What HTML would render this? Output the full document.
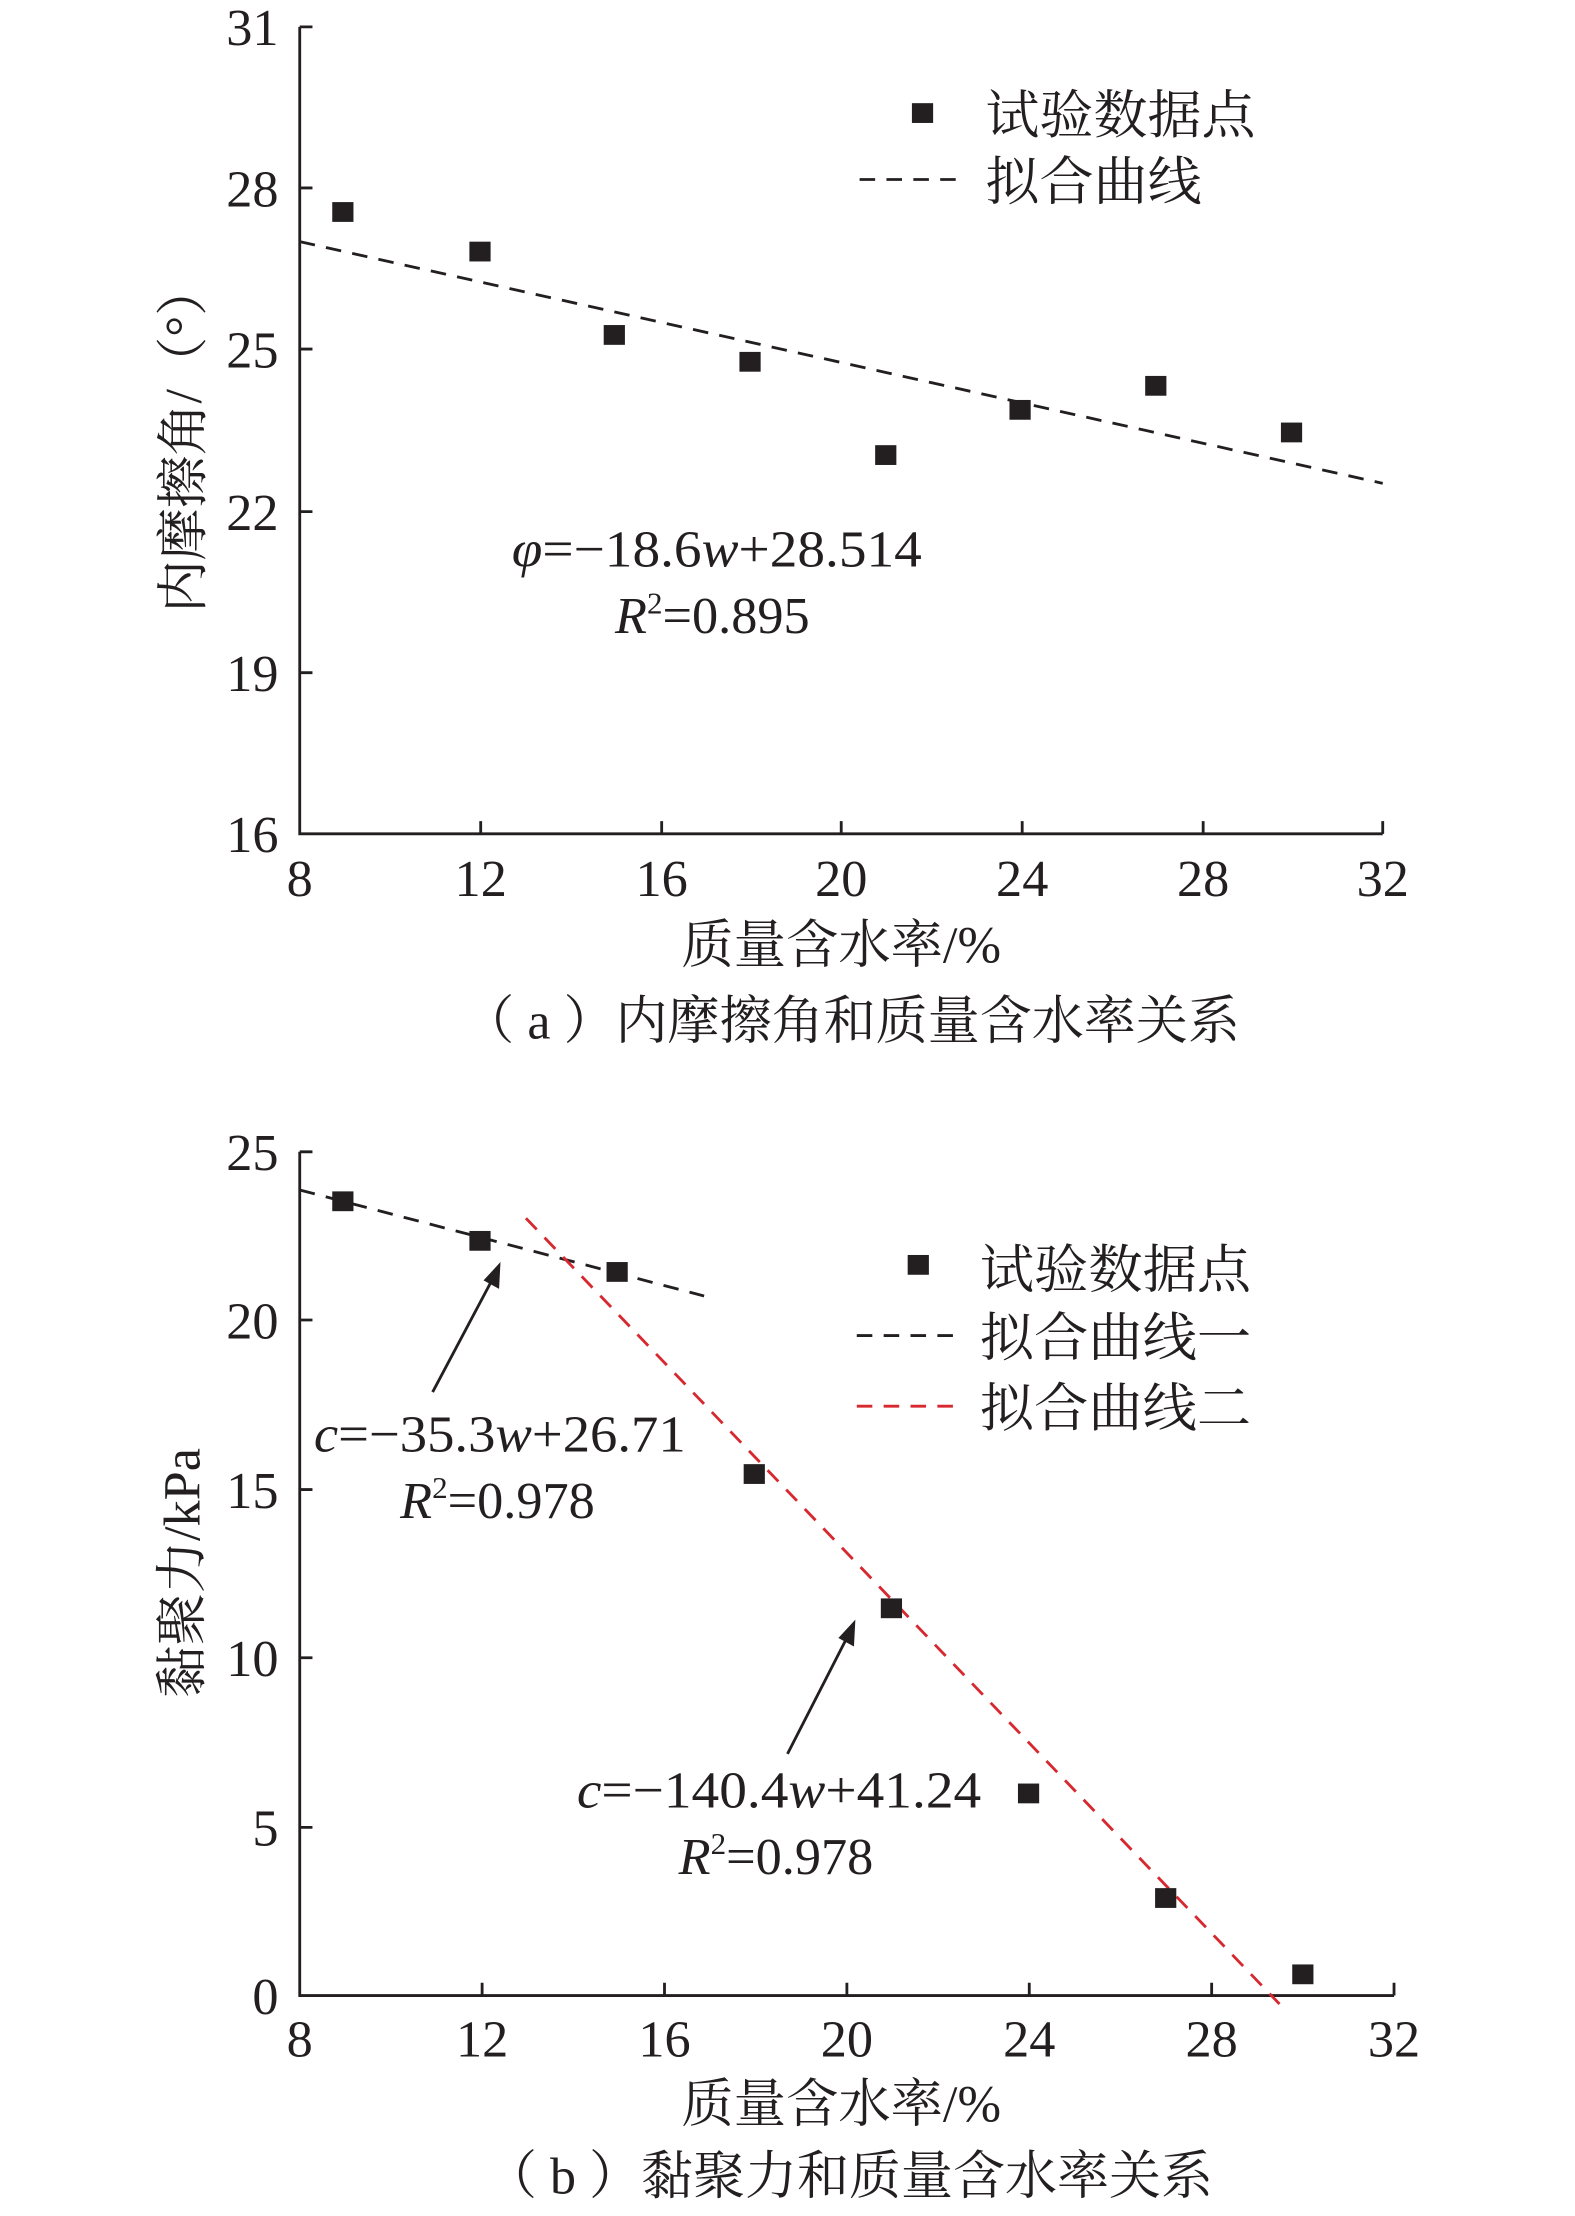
<!DOCTYPE html>
<html><head><meta charset="utf-8"><style>html,body{margin:0;padding:0;background:#fff}svg{display:block}</style></head>
<body>
<svg xmlns="http://www.w3.org/2000/svg" width="1575" height="2216" viewBox="0 0 1114 1568" preserveAspectRatio="none" font-family="'Liberation Serif','Noto Serif CJK SC',serif" fill="#231f20">
<rect width="1114" height="1568" fill="#fff"/>
<!-- Plot a -->
<g stroke="#231f20" stroke-width="2" fill="none">
<path d="M212,19 V590 H978"/>
<path d="M212,19h9M212,133h9M212,247h9M212,362h9M212,476h9"/>
<path d="M340,590v-9M468,590v-9M595,590v-9M723,590v-9M851,590v-9M978,590v-9"/>
</g>
<g font-size="37" text-anchor="end">
<text x="197" y="32">31</text><text x="197" y="146">28</text><text x="197" y="260">25</text>
<text x="197" y="375">22</text><text x="197" y="489">19</text><text x="197" y="603">16</text>
</g>
<g font-size="37" text-anchor="middle">
<text x="212" y="634">8</text><text x="340" y="634">12</text><text x="468" y="634">16</text>
<text x="595" y="634">20</text><text x="723" y="634">24</text><text x="851" y="634">28</text><text x="978" y="634">32</text>
</g>
<line x1="212" y1="171" x2="978" y2="342" stroke="#231f20" stroke-width="2" stroke-dasharray="11,8"/>
<g>
<rect x="235" y="143" width="15" height="14"/><rect x="332" y="171" width="15" height="14"/>
<rect x="427" y="230" width="15" height="14"/><rect x="523" y="249" width="15" height="14"/>
<rect x="619" y="315" width="15" height="14"/><rect x="714" y="283" width="15" height="14"/>
<rect x="810" y="266" width="15" height="14"/><rect x="906" y="299" width="15" height="14"/>
</g>
<rect x="645" y="73" width="15" height="14"/>
<text x="697" y="94" font-size="37" textLength="191" lengthAdjust="spacingAndGlyphs">试验数据点</text>
<line x1="608" y1="127" x2="683" y2="127" stroke="#231f20" stroke-width="2" stroke-dasharray="11,8"/>
<text x="697" y="141" font-size="37" textLength="153" lengthAdjust="spacingAndGlyphs">拟合曲线</text>
<text x="362" y="401" font-size="37" textLength="290" lengthAdjust="spacingAndGlyphs"><tspan font-style="italic">φ</tspan>=−18.6<tspan font-style="italic">w</tspan>+28.514</text>
<text x="435" y="448" font-size="37"><tspan font-style="italic">R</tspan><tspan font-size="22" dy="-14">2</tspan><tspan dy="14">=0.895</tspan></text>
<text transform="translate(142,310) rotate(-90)" font-size="37" text-anchor="middle">内摩擦角/（°）</text>
<text x="595" y="681" font-size="37" text-anchor="middle">质量含水率/%</text>
<text x="327" y="735" font-size="37" textLength="550" lengthAdjust="spacingAndGlyphs">（ a ）内摩擦角和质量含水率关系</text>

<!-- Plot b -->
<g stroke="#231f20" stroke-width="2" fill="none">
<path d="M212,815 V1412 H986"/>
<path d="M212,815h9M212,934h9M212,1054h9M212,1173h9M212,1293h9"/>
<path d="M341,1412v-9M470,1412v-9M599,1412v-9M728,1412v-9M857,1412v-9M986,1412v-9"/>
</g>
<g font-size="37" text-anchor="end">
<text x="197" y="828">25</text><text x="197" y="947">20</text><text x="197" y="1067">15</text>
<text x="197" y="1186">10</text><text x="197" y="1306">5</text><text x="197" y="1425">0</text>
</g>
<g font-size="37" text-anchor="middle">
<text x="212" y="1455">8</text><text x="341" y="1455">12</text><text x="470" y="1455">16</text>
<text x="599" y="1455">20</text><text x="728" y="1455">24</text><text x="857" y="1455">28</text><text x="986" y="1455">32</text>
</g>
<line x1="212" y1="842" x2="498" y2="917" stroke="#231f20" stroke-width="2" stroke-dasharray="11,8"/>
<line x1="372" y1="862" x2="905" y2="1418" stroke="#d7282f" stroke-width="2" stroke-dasharray="11,8"/>
<g>
<rect x="235" y="843" width="15" height="14"/><rect x="332" y="871" width="15" height="14"/>
<rect x="429" y="893" width="15" height="14"/><rect x="526" y="1036" width="15" height="14"/>
<rect x="623" y="1131" width="15" height="14"/><rect x="720" y="1262" width="15" height="14"/>
<rect x="817" y="1336" width="15" height="14"/><rect x="914" y="1390" width="15" height="14"/>
</g>
<rect x="642" y="888" width="15" height="14"/>
<text x="693" y="911" font-size="37" textLength="192" lengthAdjust="spacingAndGlyphs">试验数据点</text>
<line x1="606" y1="945" x2="682" y2="945" stroke="#231f20" stroke-width="2" stroke-dasharray="11,8"/>
<text x="693" y="959" font-size="37" textLength="192" lengthAdjust="spacingAndGlyphs">拟合曲线一</text>
<line x1="606" y1="995" x2="682" y2="995" stroke="#d7282f" stroke-width="2" stroke-dasharray="11,8"/>
<text x="693" y="1009" font-size="37" textLength="192" lengthAdjust="spacingAndGlyphs">拟合曲线二</text>
<g stroke="#231f20" stroke-width="2">
<line x1="306" y1="985" x2="350" y2="902"/>
<line x1="557" y1="1241" x2="601" y2="1155"/>
</g>
<polygon points="354,893 353,912 342,906"/>
<polygon points="605,1146 604,1165 593,1159"/>
<text x="222" y="1027" font-size="37" textLength="263" lengthAdjust="spacingAndGlyphs"><tspan font-style="italic">c</tspan>=−35.3<tspan font-style="italic">w</tspan>+26.71</text>
<text x="283" y="1074" font-size="37"><tspan font-style="italic">R</tspan><tspan font-size="22" dy="-14">2</tspan><tspan dy="14">=0.978</tspan></text>
<text x="408" y="1279" font-size="37" textLength="286" lengthAdjust="spacingAndGlyphs"><tspan font-style="italic">c</tspan>=−140.4<tspan font-style="italic">w</tspan>+41.24</text>
<text x="480" y="1326" font-size="37"><tspan font-style="italic">R</tspan><tspan font-size="22" dy="-14">2</tspan><tspan dy="14">=0.978</tspan></text>
<text transform="translate(141,1113) rotate(-90)" font-size="37" text-anchor="middle">黏聚力/kPa</text>
<text x="595" y="1501" font-size="37" text-anchor="middle">质量含水率/%</text>
<text x="343" y="1552" font-size="37" textLength="515" lengthAdjust="spacingAndGlyphs">（ b ）黏聚力和质量含水率关系</text>
</svg>
</body></html>
